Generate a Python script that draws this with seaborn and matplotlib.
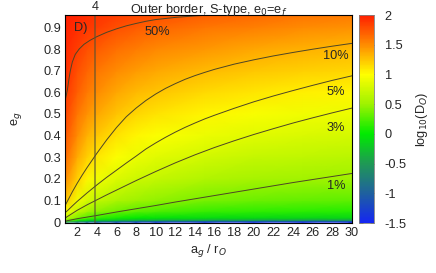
import numpy as np
import pandas as pd
import matplotlib
matplotlib.use('Agg')
import matplotlib.pyplot as plt
import seaborn as sns
from matplotlib.colors import LinearSegmentedColormap

# grid of log10(D_O)
a_grid = [0.8, 2, 3, 4, 6, 8, 10, 15, 20, 25, 30]
e_grid = [0.0, 0.01, 0.02, 0.05, 0.1, 0.2, 0.3, 0.4, 0.5, 0.6, 0.7, 0.8, 0.9, 0.957]
logD = [
    [-0.5, -0.8, -1.0, -1.1, -1.2, -1.3, -1.35, -1.4, -1.45, -1.48, -1.5],
    [0.4, 0.1, -0.05, -0.12, -0.25, -0.32, -0.36, -0.4, -0.43, -0.45, -0.47],
    [0.7, 0.4, 0.25, 0.16, 0.06, 0.0, -0.04, -0.08, -0.1, -0.12, -0.13],
    [1.0, 0.68, 0.53, 0.45, 0.35, 0.28, 0.24, 0.18, 0.15, 0.13, 0.12],
    [1.25, 0.92, 0.77, 0.68, 0.57, 0.5, 0.46, 0.38, 0.34, 0.31, 0.3],
    [1.5, 1.2, 1.03, 0.93, 0.82, 0.74, 0.69, 0.6, 0.55, 0.52, 0.5],
    [1.65, 1.37, 1.2, 1.1, 0.98, 0.9, 0.85, 0.76, 0.7, 0.67, 0.64],
    [1.75, 1.5, 1.34, 1.24, 1.12, 1.04, 0.98, 0.9, 0.84, 0.8, 0.77],
    [1.83, 1.6, 1.47, 1.38, 1.25, 1.17, 1.12, 1.03, 0.97, 0.93, 0.9],
    [1.88, 1.7, 1.58, 1.5, 1.38, 1.3, 1.25, 1.16, 1.1, 1.06, 1.03],
    [1.92, 1.78, 1.68, 1.6, 1.5, 1.43, 1.38, 1.3, 1.24, 1.2, 1.17],
    [1.95, 1.85, 1.78, 1.72, 1.63, 1.57, 1.52, 1.44, 1.38, 1.34, 1.3],
    [1.98, 1.93, 1.88, 1.85, 1.78, 1.72, 1.68, 1.6, 1.55, 1.5, 1.47],
    [2.0, 1.97, 1.93, 1.9, 1.85, 1.8, 1.77, 1.7, 1.65, 1.6, 1.57],
]

# contour lines (percent levels)
c1_a = [0.8, 1, 2, 4, 6, 8, 10, 12, 14, 16, 18, 20, 22, 24, 26, 28, 30]
c1_e = [0.004, 0.007, 0.016, 0.031, 0.047, 0.062, 0.077, 0.093, 0.108, 0.123,
        0.138, 0.153, 0.168, 0.183, 0.197, 0.211, 0.225]
c3_a = [0.8, 1, 2, 3, 4, 5, 6, 7, 8, 9, 10, 12, 14, 16, 18, 20, 22, 24, 26, 28, 30]
c3_e = [0.02, 0.026, 0.055, 0.08, 0.103, 0.126, 0.148, 0.17, 0.192, 0.213, 0.234,
        0.274, 0.311, 0.345, 0.376, 0.405, 0.432, 0.458, 0.482, 0.505, 0.527]
c5_a = [0.8, 1, 1.5, 2, 3, 4, 5, 6, 7, 8, 9, 10, 11, 12, 13, 14, 15, 16, 18, 20,
        22, 24, 26, 28, 30]
c5_e = [0.045, 0.053, 0.075, 0.096, 0.135, 0.172, 0.207, 0.24, 0.273, 0.305,
        0.338, 0.366, 0.392, 0.416, 0.438, 0.458, 0.477, 0.494, 0.526, 0.556,
        0.583, 0.608, 0.632, 0.655, 0.676]
c10_a = [0.8, 1, 1.5, 2, 2.5, 3, 3.5, 4, 5, 6, 7, 8, 9, 10, 11, 12, 13, 14, 15,
         16, 18, 20, 22, 24, 26, 28, 30]
c10_e = [0.08, 0.097, 0.14, 0.18, 0.217, 0.252, 0.285, 0.318, 0.38, 0.437, 0.487,
         0.527, 0.562, 0.592, 0.618, 0.64, 0.66, 0.677, 0.692, 0.706, 0.73, 0.75,
         0.768, 0.784, 0.799, 0.813, 0.826]
c50_a = [0.75, 0.9, 1.0, 1.15, 1.3, 1.5, 1.8, 2.2, 2.7, 3.3, 4, 5, 6, 7, 8, 9, 10,
         12, 14, 16, 18]
c50_e = [0.56, 0.59, 0.612, 0.66, 0.70, 0.74, 0.775, 0.80, 0.822, 0.84, 0.857,
         0.877, 0.893, 0.907, 0.918, 0.928, 0.936, 0.946, 0.953, 0.958, 0.962]

levels = ['1%', '3%', '5%', '10%', '50%']
label_a = [28.4, 28.4, 28.4, 28.4, 10.2]
label_e = [0.166, 0.436, 0.60, 0.766, 0.88]

cb_ticks = [-1.5, -1, -0.5, 0, 0.5, 1, 1.5, 2]

sns.set_style('white')
plt.rcParams['font.family'] = ['Liberation Sans', 'DejaVu Sans']
plt.rcParams['font.size'] = 9.2

cmap = LinearSegmentedColormap.from_list('gp', [
    (0 / 7, (0.08, 0.15, 0.95)),
    (1 / 7, (0.12, 0.38, 0.62)),
    (2 / 7, (0.12, 0.60, 0.33)),
    (3 / 7, (0.0, 0.92, 0.0)),
    (4 / 7, (0.62, 0.95, 0.0)),
    (5 / 7, (1.0, 1.0, 0.0)),
    (6 / 7, (1.0, 0.55, 0.0)),
    (7 / 7, (1.0, 0.12, 0.0)),
])

fig = plt.figure(figsize=(4.36, 2.73), dpi=100)
ax = fig.add_axes([0.149, 0.183, 0.658, 0.762])
cax = fig.add_axes([0.823, 0.183, 0.034, 0.762])

A, E = np.meshgrid(a_grid, e_grid)
mesh = ax.pcolormesh(A, E, np.array(logD), cmap=cmap, vmin=-1.5, vmax=2,
                     shading='gouraud', rasterized=True)

line_col = (0.3, 0.27, 0.15)
for xs, ys in [(c1_a, c1_e), (c3_a, c3_e), (c5_a, c5_e), (c10_a, c10_e), (c50_a, c50_e)]:
    df = pd.DataFrame({'a': xs, 'e': ys})
    sns.lineplot(data=df, x='a', y='e', ax=ax, sort=False, estimator=None,
                 color=line_col, lw=0.7)

ax.axvline(3.8, color=(0.35, 0.33, 0.2), lw=1.1, alpha=0.75)

for lab, xa, ye in zip(levels, label_a, label_e):
    ax.text(xa, ye, lab, ha='center', va='center')
ax.text(2.4, 0.895, 'D)', ha='center', va='center')
ax.text(3.8, 0.965, '4', ha='center', va='bottom')

ax.set_xlim(0.75, 30)
ax.set_ylim(-0.004, 0.957)
ax.set_xticks(range(2, 31, 2))
ax.set_yticks(np.arange(0, 0.95, 0.1))
ax.set_yticklabels(['0', '0.1', '0.2', '0.3', '0.4', '0.5', '0.6', '0.7', '0.8', '0.9'])
ax.tick_params(direction='in', length=3, width=0.6, top=True, right=True, pad=3,
               color='0.3')
for s in ax.spines.values():
    s.set_linewidth(0.8)
    s.set_color('black')
ax.set_xlabel('a$_g$ / r$_O$', labelpad=2)
ax.set_ylabel('e$_g$', labelpad=14)
ax.set_title('Outer border, S-type, e$_0$=e$_f$', fontsize=9.2, pad=1.5)

cb = fig.colorbar(mesh, cax=cax, ticks=cb_ticks)
cb.ax.set_yticklabels(['-1.5', '-1', '-0.5', '0', '0.5', '1', '1.5', '2'])
cb.ax.tick_params(direction='in', length=3, width=0.6, left=True, right=True,
                  color='0.3', pad=8)
cb.outline.set_linewidth(0.6)
cb.outline.set_edgecolor('0.5')
cb.set_label('log$_{10}$(D$_O$)', labelpad=5)

fig.savefig('out.png', dpi=100)
